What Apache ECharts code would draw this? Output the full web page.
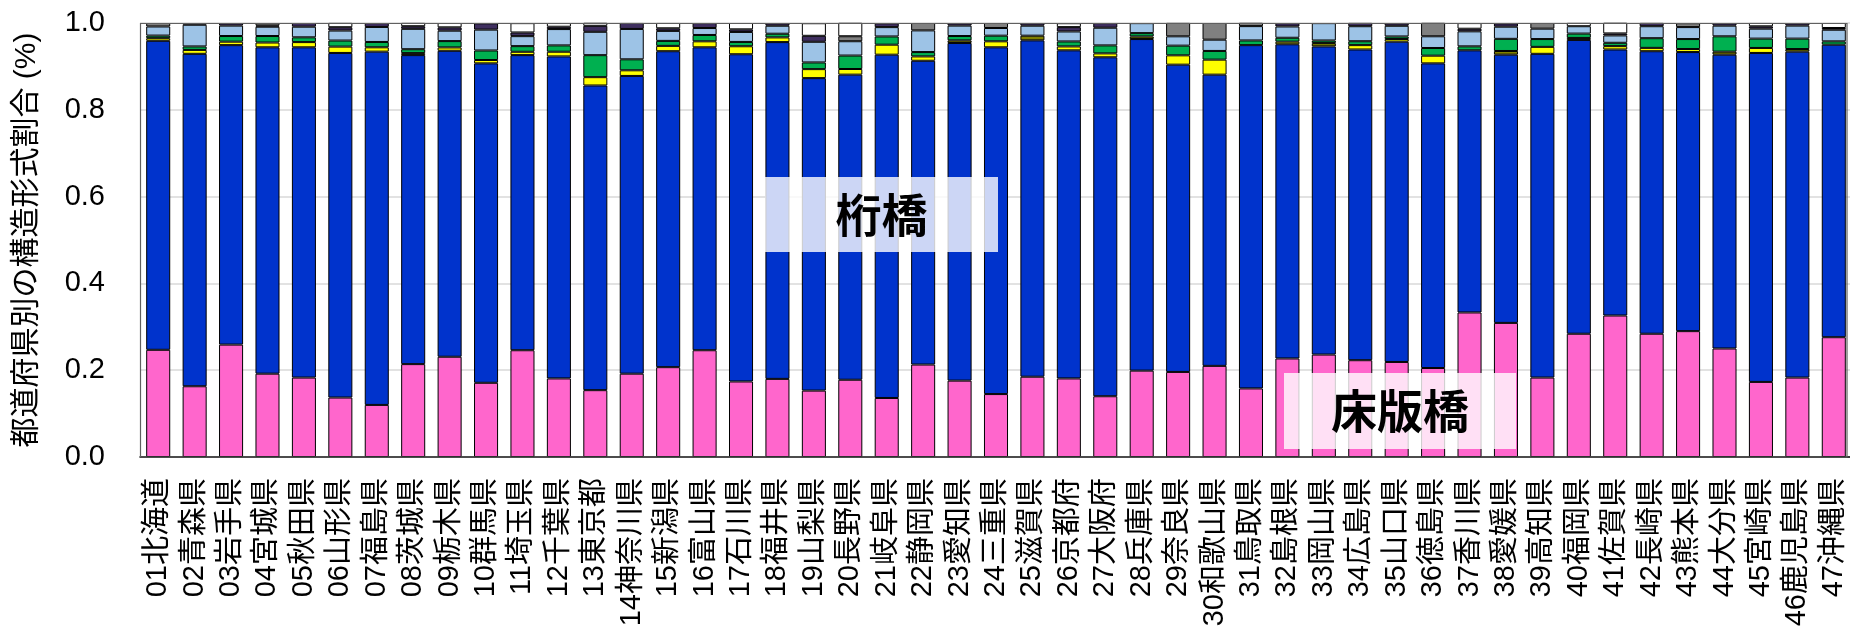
<!DOCTYPE html>
<html>
<head>
<meta charset="utf-8">
<script src="https://cdn.jsdelivr.net/npm/echarts@6/dist/echarts.min.js"></script>
<style>
  html, body { margin: 0; padding: 0; background: #ffffff; }
  #chart { width: 1850px; height: 630px; }
</style>
</head>
<body>
<div id="chart"></div>
<script>
// Prefectures (category axis)
const prefectures = [
  '01北海道','02青森県','03岩手県','04宮城県','05秋田県','06山形県','07福島県','08茨城県',
  '09栃木県','10群馬県','11埼玉県','12千葉県','13東京都','14神奈川県','15新潟県','16富山県',
  '17石川県','18福井県','19山梨県','20長野県','21岐阜県','22静岡県','23愛知県','24三重県',
  '25滋賀県','26京都府','27大阪府','28兵庫県','29奈良県','30和歌山県','31鳥取県','32島根県',
  '33岡山県','34広島県','35山口県','36徳島県','37香川県','38愛媛県','39高知県','40福岡県',
  '41佐賀県','42長崎県','43熊本県','44大分県','45宮崎県','46鹿児島県','47沖縄県'
];

// Y axis ticks
const yTicks = [0.0, 0.2, 0.4, 0.6, 0.8, 1.0];

// Share of each structure type per prefecture (stacked bottom to top)
const slabBridge = [
  0.247,0.163,0.259,0.192,0.183,0.137,0.120,0.214,0.231,0.171,0.246,0.181,0.154,0.192,0.207,0.246,
  0.174,0.180,0.153,0.178,0.136,0.213,0.176,0.145,0.185,0.181,0.140,0.199,0.196,0.210,0.158,0.227,
  0.236,0.223,0.219,0.205,0.333,0.309,0.183,0.284,0.326,0.284,0.290,0.250,0.173,0.183,0.276
];
const girderBridge = [
  0.712,0.766,0.690,0.752,0.761,0.794,0.814,0.712,0.705,0.736,0.680,0.742,0.702,0.686,0.728,0.698,
  0.754,0.776,0.720,0.703,0.791,0.700,0.778,0.799,0.775,0.756,0.781,0.764,0.708,0.671,0.791,0.724,
  0.710,0.716,0.738,0.702,0.604,0.618,0.746,0.677,0.613,0.651,0.643,0.677,0.758,0.751,0.674
];
const typeOlive = [
  0,0,0,0,0,0,0,0.0046,0,0,0,0,0,0,0,0,
  0,0,0,0,0,0,0.006,0,0.0108,0,0,0.006,0,0,0,0,
  0.0077,0,0,0,0,0.0085,0,0.0046,0,0,0,0.007,0,0.006,0
];
const typeYellow = [
  0.006,0.009,0.008,0.011,0.012,0.0146,0.010,0,0.0077,0.0077,0.0077,0.0108,0.0192,0.013,0.0123,0.0138,
  0.0184,0.0108,0.0207,0.013,0.023,0.010,0,0.0138,0,0.009,0.009,0,0.0215,0.0346,0,0.006,
  0,0.010,0.006,0.0177,0,0,0.016,0,0.0077,0.0077,0.007,0,0.0115,0,0
];
const typeGreen = [
  0.006,0.008,0.013,0.015,0.011,0.014,0.0123,0.009,0.0146,0.022,0.013,0.0146,0.0507,0.0253,0.0115,0.0146,
  0.010,0.0085,0.0154,0.031,0.019,0.010,0.010,0.013,0,0.0115,0.0184,0.0077,0.0223,0.020,0.0108,0.009,
  0.006,0.009,0.006,0.0177,0.0092,0.028,0.018,0.010,0.0077,0.0223,0.023,0.0353,0.0215,0.024,0.0077
];
const typeLightBlue = [
  0.021,0.050,0.024,0.0215,0.0245,0.023,0.0346,0.047,0.024,0.048,0.023,0.0376,0.0538,0.070,0.023,0.016,
  0.023,0.0184,0.0476,0.033,0.0215,0.050,0.024,0.0177,0.023,0.023,0.0407,0.023,0.0215,0.026,0.033,0.026,
  0.040,0.0346,0.0246,0.027,0.0346,0.028,0.024,0.017,0.017,0.0276,0.0276,0.0246,0.023,0.030,0.0268
];
const typeDark = [
  0,0.004,0.006,0.003,0.0085,0.0077,0.009,0.006,0.0077,0.0146,0.0085,0.0054,0.0138,0.0138,0.006,0.0115,
  0.006,0.006,0.0138,0,0.009,0,0.006,0,0.006,0.010,0.0108,0,0,0,0,0.0077,
  0,0.0077,0.006,0,0.006,0.0077,0,0,0.0046,0.0077,0,0.006,0.0054,0.006,0.004
];
const typeGray = [
  0.008,0,0,0,0,0,0,0,0,0,0,0,0,0,0,0,
  0,0,0,0.0115,0,0.017,0,0.0115,0,0,0,0,0.031,0.0384,0.0077,0,
  0,0,0,0.031,0,0,0.013,0,0,0,0.009,0,0,0,0
];
const typeWhite = [
  0,0,0,0.005,0,0.010,0,0.0077,0.010,0,0.0215,0.0085,0.007,0,0.0123,0,
  0.0146,0,0.029,0.031,0,0,0,0,0,0.009,0,0,0,0,0,0,
  0,0,0,0,0.013,0,0,0.0077,0.0246,0,0,0,0.0077,0,0.0115
];

const stackLayers = [
  { name: '床版橋', values: slabBridge,    color: '#FF66CC' },
  { name: '桁橋',   values: girderBridge,  color: '#0033CC' },
  { name: 'typeOlive',     values: typeOlive,     color: '#808000' },
  { name: 'typeYellow',    values: typeYellow,    color: '#FFFF00' },
  { name: 'typeGreen',     values: typeGreen,     color: '#00B050' },
  { name: 'typeLightBlue', values: typeLightBlue, color: '#9DC3E6' },
  { name: 'typeDark',      values: typeDark,      color: '#3F2F5F' },
  { name: 'typeGray',      values: typeGray,      color: '#808080' },
  { name: 'typeWhite',     values: typeWhite,     color: '#FFFFFF' }
];

const latinFont = '"Liberation Sans", Arial, "Noto Sans CJK JP", sans-serif';
const cjkFont = '"Liberation Sans", "Noto Sans CJK JP", sans-serif';

const chart = echarts.init(document.getElementById('chart'), null, { renderer: 'canvas' });

const option = {
  animation: false,
  backgroundColor: '#ffffff',
  grid: {
    left: 140,
    top: 23,
    width: 1712,
    height: 434,
    containLabel: false,
    outerBoundsMode: 'none'
  },
  xAxis: {
    type: 'category',
    data: prefectures,
    axisTick: { show: false },
    axisLine: { show: true, lineStyle: { color: '#000000', width: 1.5 } },
    axisLabel: {
      interval: 0,
      rotate: 90,
      margin: 21,
      fontSize: 29,
      color: '#000000',
      fontFamily: cjkFont
    }
  },
  yAxis: {
    type: 'value',
    min: yTicks[0],
    max: yTicks[yTicks.length - 1],
    interval: 0.2,
    name: '都道府県別の構造形式割合 (%)',
    nameLocation: 'middle',
    nameRotate: 90,
    nameGap: 98,
    nameTextStyle: { fontSize: 30, color: '#000000', fontFamily: cjkFont },
    axisLine: { show: false },
    axisTick: { show: false },
    axisLabel: {
      margin: 35,
      fontSize: 29,
      color: '#000000',
      fontFamily: latinFont,
      formatter: v => v.toFixed(1)
    },
    splitLine: { show: true, lineStyle: { color: '#D9D9D9', width: 1.5 } }
  },
  series: stackLayers.map(layer => ({
    name: layer.name,
    type: 'bar',
    stack: 'share',
    barCategoryGap: '34%',
    data: layer.values.map(v => (v > 0 ? v : null)),
    itemStyle: { color: layer.color, borderColor: '#000000', borderWidth: 1 }
  })),
  graphic: [
    // plot frame
    {
      type: 'rect', z: 50, silent: true,
      shape: { x: 140.5, y: 23.5, width: 1706.5, height: 433.5 },
      style: { fill: 'none', stroke: '#606060', lineWidth: 1.2 }
    },
    // 桁橋 annotation
    {
      type: 'rect', z: 60, silent: true,
      shape: { x: 765, y: 177, width: 233, height: 75 },
      style: { fill: 'rgba(255,255,255,0.8)' }
    },
    {
      type: 'text', z: 61, silent: true,
      x: 881.5, y: 215,
      style: {
        text: '桁橋', fill: '#000000', align: 'center', verticalAlign: 'middle',
        font: 'bold 46px "Noto Sans CJK JP", sans-serif'
      }
    },
    // 床版橋 annotation
    {
      type: 'rect', z: 60, silent: true,
      shape: { x: 1284, y: 373, width: 232, height: 76 },
      style: { fill: 'rgba(255,255,255,0.8)' }
    },
    {
      type: 'text', z: 61, silent: true,
      x: 1400, y: 411,
      style: {
        text: '床版橋', fill: '#000000', align: 'center', verticalAlign: 'middle',
        font: 'bold 46px "Noto Sans CJK JP", sans-serif'
      }
    }
  ]
};

chart.setOption(option);
</script>
</body>
</html>
